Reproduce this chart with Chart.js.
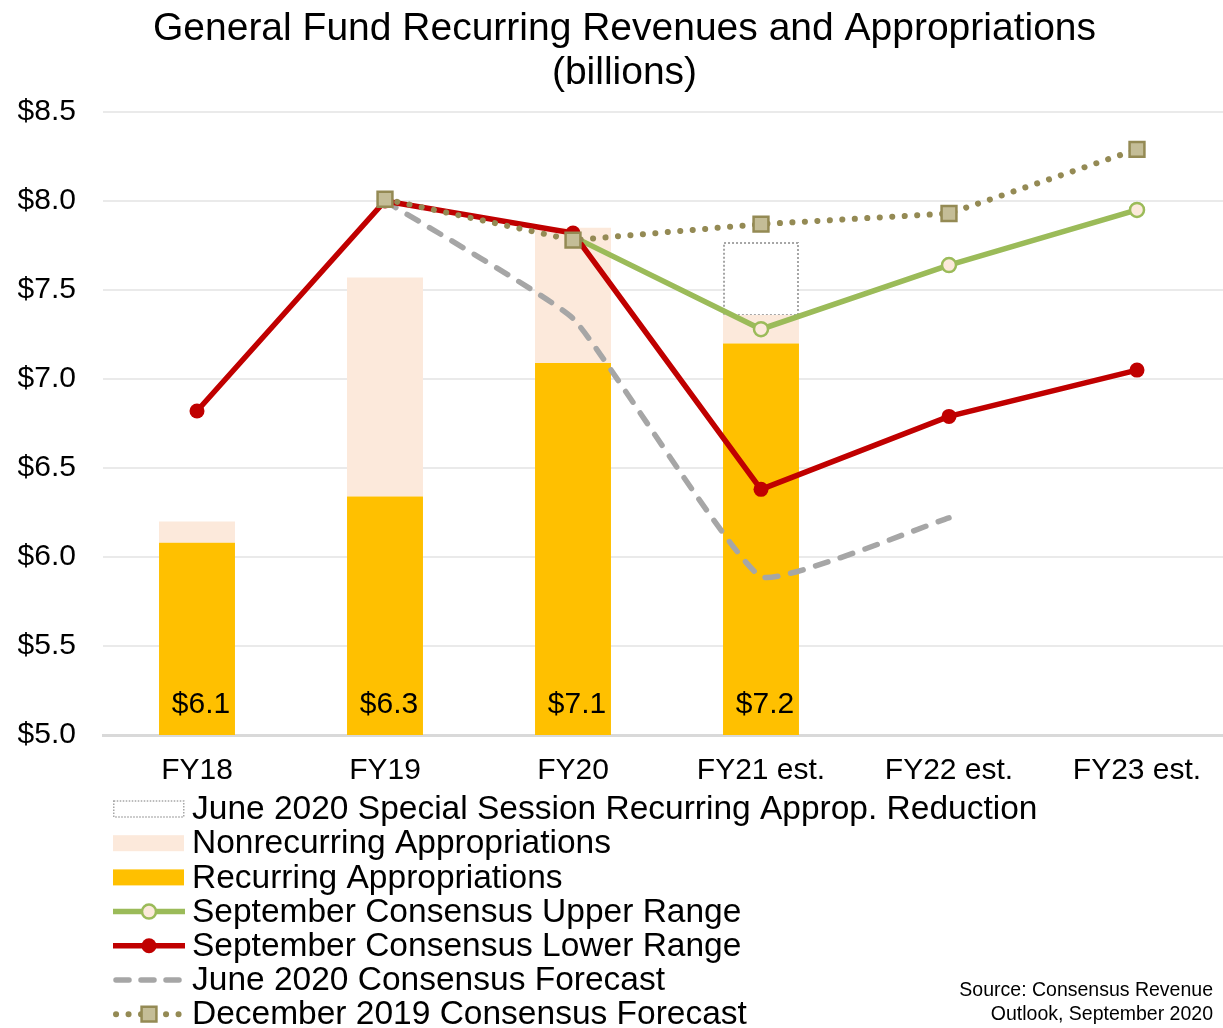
<!DOCTYPE html>
<html>
<head>
<meta charset="utf-8">
<script src="https://cdn.jsdelivr.net/npm/chart.js@4.4.1/dist/chart.umd.min.js"></script>
<style>
html,body{margin:0;padding:0;overflow:hidden;background:#fff;}
canvas{display:block;}
</style>
</head>
<body>
<canvas id="c" width="1246" height="1028"></canvas>
<script>
// ---------- data ----------
const categories = ['FY18', 'FY19', 'FY20', 'FY21 est.', 'FY22 est.', 'FY23 est.'];
const recurringApprop = [6.08, 6.34, 7.09, 7.20, null, null];
const nonrecurringApprop = [0.12, 1.23, 0.76, 0.16, null, null];
const juneReduction = [null, null, null, 0.41, null, null];
const sepUpper = [null, null, 7.80, 7.28, 7.64, 7.95];
const sepLower = [6.82, 8.00, 7.82, 6.38, 6.79, 7.05];
const june2020Forecast = [null, 8.00, 7.34, 5.89, 6.22, null];
const dec2019Forecast = [null, 8.01, 7.78, 7.87, 7.93, 8.29];
const yMin = 5.0, yMax = 8.5, yStep = 0.5;
const titleLines = ['General Fund Recurring Revenues and Appropriations', '(billions)'];
const sourceLines = ['Source: Consensus Revenue', 'Outlook, September 2020'];

// ---------- styling ----------
const FONT = "'Liberation Sans', Arial, Helvetica, sans-serif";
Chart.defaults.font.family = FONT;
Chart.defaults.color = '#000';

const GOLD = '#FFC000', PEACH = '#FCE9DB', RED = '#C00000', GREEN = '#9BBB59',
      GREY = '#A6A6A6', OLIVE = '#948A54', OLIVE_FILL = '#C4BD97';

// dotted outline for the June 2020 reduction bar (drawn from the bar element geometry)
const reductionOutline = {
  id: 'reductionOutline',
  afterDatasetDraw(chart, args) {
    const ds = chart.data.datasets[args.index];
    if (!ds.dottedOutline) return;
    const ctx = chart.ctx;
    ctx.save();
    ctx.strokeStyle = '#A6A6A6';
    ctx.lineWidth = 2;
    ctx.setLineDash([2, 2]);
    args.meta.data.forEach((el, i) => {
      if (ds.data[i] == null) return;
      const p = el.getProps(['x', 'y', 'base', 'width'], true);
      ctx.strokeRect(p.x - p.width / 2 + 1, p.y + 1, p.width - 2, p.base - p.y - 1);
    });
    ctx.restore();
  }
};

// value labels at the bottom of the recurring bars
const barLabels = {
  id: 'barLabels',
  afterDatasetsDraw(chart) {
    const idx = chart.data.datasets.findIndex(d => d.valueLabels);
    const meta = chart.getDatasetMeta(idx);
    const ys = chart.scales.y;
    const ctx = chart.ctx;
    ctx.save();
    ctx.font = '30px ' + FONT;
    ctx.fillStyle = '#000';
    ctx.textAlign = 'center';
    ctx.textBaseline = 'middle';
    meta.data.forEach((el, i) => {
      const v = recurringApprop[i];
      if (v == null) return;
      ctx.fillText('$' + v.toFixed(1), el.x + 4, ys.bottom - 30);
    });
    ctx.restore();
  }
};

function drawMarker(ctx, ds, x, y) {
  if (!ds.legendMarker) return;
  const r = ds.legendMarker.radius;
  ctx.save();
  ctx.setLineDash([]);
  ctx.fillStyle = ds.pointBackgroundColor;
  ctx.strokeStyle = ds.pointBorderColor;
  ctx.lineWidth = ds.pointBorderWidth;
  ctx.beginPath();
  if (ds.pointStyle === 'rect') {
    const s = Math.SQRT1_2 * r;
    ctx.rect(x - s, y - s, 2 * s, 2 * s);
  } else {
    ctx.arc(x, y, r, 0, Math.PI * 2);
  }
  ctx.fill();
  if (ds.pointBorderWidth) ctx.stroke();
  ctx.restore();
}

// one-item-per-row legend and source note
const rowLegend = {
  id: 'rowLegend',
  afterDraw(chart) {
    const ctx = chart.ctx;
    const x0 = 113, x1 = 185, tx = 192, y0 = 809, step = 34.2;
    ctx.save();
    chart.data.datasets.forEach((ds, i) => {
      const y = y0 + i * step;
      ctx.save();
      if (ds.type === 'bar') {
        if (ds.dottedOutline) {
          ctx.fillStyle = '#fff';
          ctx.fillRect(x0, y - 8.5, 71, 17);
          ctx.strokeStyle = '#A6A6A6';
          ctx.lineWidth = 1.5;
          ctx.setLineDash([1.5, 1.5]);
          ctx.strokeRect(x0 + 0.75, y - 8, 70, 16);
        } else {
          ctx.fillStyle = ds.backgroundColor;
          ctx.fillRect(x0, y - 8, 71, 16);
        }
      } else {
        ctx.strokeStyle = ds.borderColor;
        ctx.lineWidth = ds.borderWidth;
        ctx.lineCap = ds.borderCapStyle || 'butt';
        ctx.setLineDash(ds.legendDash || ds.borderDash || []);
        ctx.beginPath();
        ctx.moveTo(x0 + (ds.legendInset || 0), y);
        ctx.lineTo(x1 - (ds.legendInset || 0), y);
        ctx.stroke();
        drawMarker(ctx, ds, (x0 + x1) / 2, y);
      }
      ctx.restore();
      ctx.font = '33.5px ' + FONT;
      ctx.fillStyle = '#000';
      ctx.textBaseline = 'middle';
      ctx.textAlign = 'left';
      ctx.fillText(ds.label, tx, y + 1);
    });
    ctx.font = '19.5px ' + FONT;
    ctx.textAlign = 'right';
    ctx.textBaseline = 'middle';
    ctx.fillStyle = '#000';
    ctx.fillText(sourceLines[0], 1213, 991);
    ctx.fillText(sourceLines[1], 1213, 1015);
    ctx.restore();
  }
};

const datasets = [
  {
    type: 'bar', label: 'June 2020 Special Session Recurring Approp. Reduction',
    data: juneReduction, backgroundColor: '#fff', borderWidth: 0,
    stack: 'bars', order: 12, dottedOutline: true,
    barPercentage: 0.404, categoryPercentage: 1.0
  },
  {
    type: 'bar', label: 'Nonrecurring Appropriations',
    data: nonrecurringApprop, backgroundColor: PEACH, borderWidth: 0,
    stack: 'bars', order: 11,
    barPercentage: 0.404, categoryPercentage: 1.0
  },
  {
    type: 'bar', label: 'Recurring Appropriations',
    data: recurringApprop, backgroundColor: GOLD, borderWidth: 0,
    stack: 'bars', order: 10, valueLabels: true,
    barPercentage: 0.404, categoryPercentage: 1.0
  },
  {
    type: 'line', label: 'September Consensus Upper Range',
    data: sepUpper, borderColor: GREEN, borderWidth: 5.5, tension: 0,
    pointStyle: 'circle', pointRadius: [0, 0, 0, 7, 7, 7],
    pointBackgroundColor: PEACH, pointBorderColor: GREEN, pointBorderWidth: 2.5,
    stack: 'l_upper', order: 2, legendMarker: { radius: 7 }
  },
  {
    type: 'line', label: 'September Consensus Lower Range',
    data: sepLower, borderColor: RED, borderWidth: 5.5, tension: 0,
    pointStyle: 'circle', pointRadius: 7.5,
    pointBackgroundColor: RED, pointBorderColor: RED, pointBorderWidth: 0,
    stack: 'l_lower', order: 1, legendMarker: { radius: 7.5 }
  },
  {
    type: 'line', label: 'June 2020 Consensus Forecast',
    data: june2020Forecast, borderColor: GREY, borderWidth: 5.5, tension: 0.12,
    borderDash: [13, 13], borderCapStyle: 'round', pointRadius: 0,
    stack: 'l_june', order: 3, legendDash: [13, 12], legendInset: 3
  },
  {
    type: 'line', label: 'December 2019 Consensus Forecast',
    data: dec2019Forecast, borderColor: OLIVE, borderWidth: 6, tension: 0,
    borderDash: [0.1, 12.4], borderCapStyle: 'round',
    pointStyle: 'rect', pointRadius: 10.5,
    pointBackgroundColor: OLIVE_FILL, pointBorderColor: OLIVE, pointBorderWidth: 2.5,
    stack: 'l_dec', order: 0, legendMarker: { radius: 10.5 }, legendInset: 3
  }
];

new Chart(document.getElementById('c'), {
  data: { labels: categories, datasets },
  options: {
    responsive: false,
    animation: false,
    events: [],
    layout: { padding: { left: 18, right: 15, top: 0, bottom: 239 } },
    plugins: {
      legend: { display: false },
      tooltip: { enabled: false },
      title: {
        display: true,
        text: titleLines,
        color: '#000',
        font: { size: 39, weight: 'normal', lineHeight: 44 / 39 },
        padding: { top: 7, bottom: 17 }
      }
    },
    scales: {
      x: {
        stacked: true,
        grid: { display: false, drawTicks: false },
        border: { display: true, color: '#D9D9D9', width: 3 },
        ticks: { font: { size: 30 }, color: '#000', padding: 18, maxRotation: 0, autoSkip: false },
        afterFit(scale) { scale.height = 54; }
      },
      y: {
        stacked: true,
        min: yMin, max: yMax,
        grid: { color: '#EAEAEA', lineWidth: 2, drawTicks: false },
        border: { display: false },
        ticks: {
          stepSize: yStep, font: { size: 30 }, color: '#000', padding: 27,
          callback: v => '$' + Number(v).toFixed(1)
        },
        afterFit(scale) { scale.width = 85; }
      }
    }
  },
  plugins: [reductionOutline, barLabels, rowLegend]
});
</script>
</body>
</html>
